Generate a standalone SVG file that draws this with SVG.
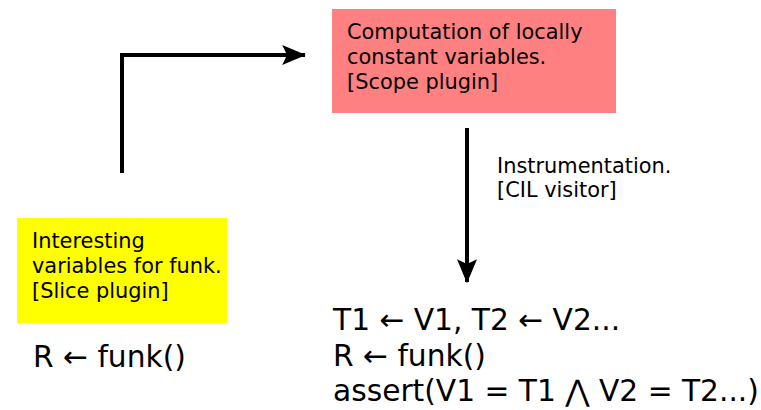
<svg xmlns="http://www.w3.org/2000/svg" width="761" height="410" viewBox="0 0 761 410">
<defs>
<style>
.t{font-family:"DejaVu Sans",sans-serif;fill:#000}
.s{font-size:20.9px}
.b{font-size:29.7px}
.c{fill:none;stroke:#000;stroke-width:4}
</style>
<marker id="ah" markerWidth="6" markerHeight="5" refX="5.7" refY="2.5" orient="auto" markerUnits="strokeWidth">
<path d="M0,0 L6,2.5 L0,5 L1.2,2.5 Z" fill="#000"/>
</marker>
</defs>
<rect width="761" height="410" fill="#fff"/>
<g id="scope">
<rect x="332" y="9" width="284" height="104" fill="#ff8080"/>
<text class="t s" x="347" y="39">Computation of locally</text>
<text class="t s" x="347" y="64">constant variables.</text>
<text class="t s" x="347" y="89">[Scope plugin]</text>
</g>
<g id="slice">
<rect x="17" y="218" width="210" height="105" fill="#ffff00"/>
<text class="t s" x="32" y="248">Interesting</text>
<text class="t s" x="32" y="273">variables for funk.</text>
<text class="t s" x="32" y="298">[Slice plugin]</text>
</g>
<g id="original">
<text class="t b" x="33" y="367">R ← funk()</text>
</g>
<g id="instrumented">
<text class="t b" x="333" y="330">T1 ← V1, T2 ← V2...</text>
<text class="t b" x="333" y="366">R ← funk()</text>
<text class="t b" x="333" y="401">assert(V1 = T1 ⋀ V2 = T2...)</text>
</g>
<g id="connectors">
<path class="c" d="M122,173 V55 H305" marker-end="url(#ah)"/>
<path class="c" d="M467,128 V282" marker-end="url(#ah)"/>
<text class="t s" x="497" y="173">Instrumentation.</text>
<text class="t s" x="497" y="197">[CIL visitor]</text>
</g>
</svg>
